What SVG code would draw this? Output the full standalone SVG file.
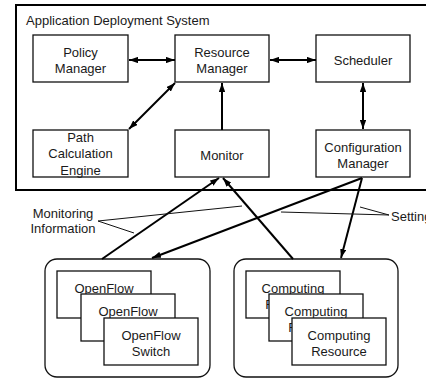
<svg xmlns="http://www.w3.org/2000/svg" width="426" height="378" viewBox="0 0 426 378">
<style>
text{font-family:"Liberation Sans",Arial,sans-serif;font-size:13px;fill:#1a1a1a;text-anchor:middle}
.box{fill:#fff;stroke:#111;stroke-width:1.3}
.grp{fill:#fff;stroke:#111;stroke-width:1.3}
.arr{stroke:#000;stroke-width:2;fill:none}
.lead{stroke:#111;stroke-width:1;fill:none}
</style>
<defs>
<marker id="ah" viewBox="0 0 10 7" refX="10" refY="3.5" markerWidth="9" markerHeight="6.5" markerUnits="userSpaceOnUse" orient="auto-start-reverse">
<path d="M0,0 L10,3.5 L0,7 z" fill="#000"/>
</marker>
</defs>
<g id="system">
<rect x="16" y="5" width="430" height="185" fill="#fff" stroke="#000" stroke-width="2"/>
<text x="26" y="24.5" style="text-anchor:start">Application Deployment System</text>
</g>
<g id="policy-manager">
<rect class="box" x="33" y="35" width="95" height="47"/>
<text x="80.5" y="56.5">Policy</text><text x="80.5" y="73">Manager</text>
</g>
<g id="resource-manager">
<rect class="box" x="175" y="35" width="94" height="47"/>
<text x="222" y="56.5">Resource</text><text x="222" y="73">Manager</text>
</g>
<g id="scheduler">
<rect class="box" x="316" y="35" width="94" height="47"/>
<text x="363" y="65">Scheduler</text>
</g>
<g id="path-calculation-engine">
<rect class="box" x="33" y="130" width="95" height="47"/>
<text x="80.5" y="141.5">Path</text><text x="80.5" y="158">Calculation</text><text x="80.5" y="174.5">Engine</text>
</g>
<g id="monitor">
<rect class="box" x="175" y="130" width="94" height="47"/>
<text x="222" y="159.5">Monitor</text>
</g>
<g id="configuration-manager">
<rect class="box" x="316" y="130" width="94" height="47"/>
<text x="363" y="151.5">Configuration</text><text x="363" y="168">Manager</text>
</g>
<g id="openflow-group">
<rect class="grp" x="45" y="259" width="165" height="118" rx="12"/>
<rect class="box" x="57" y="271" width="94" height="47"/>
<text x="104" y="292.5">OpenFlow</text>
<rect class="box" x="81" y="294" width="94" height="47"/>
<text x="128" y="315.5">OpenFlow</text>
<rect class="box" x="104" y="318" width="94" height="47"/>
<text x="151" y="339.5">OpenFlow</text><text x="151" y="356">Switch</text>
</g>
<g id="computing-group">
<rect class="grp" x="234" y="259" width="164" height="118" rx="12"/>
<rect class="box" x="246" y="271" width="94" height="47"/>
<text x="293" y="292.5">Computing</text><text x="293" y="309">Resource</text>
<rect class="box" x="269" y="294" width="94" height="47"/>
<text x="316" y="315.5">Computing</text><text x="316" y="332">Resource</text>
<rect class="box" x="292" y="318" width="94" height="47"/>
<text x="339" y="339.5">Computing</text><text x="339" y="356">Resource</text>
</g>
<g id="connectors">
<line class="arr" x1="129" y1="60" x2="175" y2="60" marker-start="url(#ah)" marker-end="url(#ah)"/>
<line class="arr" x1="270" y1="60" x2="316" y2="60" marker-start="url(#ah)" marker-end="url(#ah)"/>
<line class="arr" x1="129" y1="129" x2="175" y2="83" marker-start="url(#ah)" marker-end="url(#ah)"/>
<line class="arr" x1="222" y1="130" x2="222" y2="83" marker-end="url(#ah)"/>
<line class="arr" x1="363" y1="83" x2="363" y2="129" marker-start="url(#ah)" marker-end="url(#ah)"/>
<line class="arr" x1="102" y1="259" x2="219" y2="178" marker-end="url(#ah)"/>
<line class="arr" x1="293" y1="259" x2="223" y2="178" marker-end="url(#ah)"/>
<line class="arr" x1="362" y1="178" x2="152" y2="258" marker-end="url(#ah)"/>
<line class="arr" x1="362" y1="178" x2="341" y2="258" marker-end="url(#ah)"/>
<polyline class="lead" points="242,206 98,221 134,233"/>
<polyline class="lead" points="281,212 389,215 360,207"/>
</g>
<g id="labels">
<text x="63" y="217.5">Monitoring</text><text x="63" y="233">Information</text>
<text x="391" y="221" style="text-anchor:start">Settings</text>
</g>
</svg>
